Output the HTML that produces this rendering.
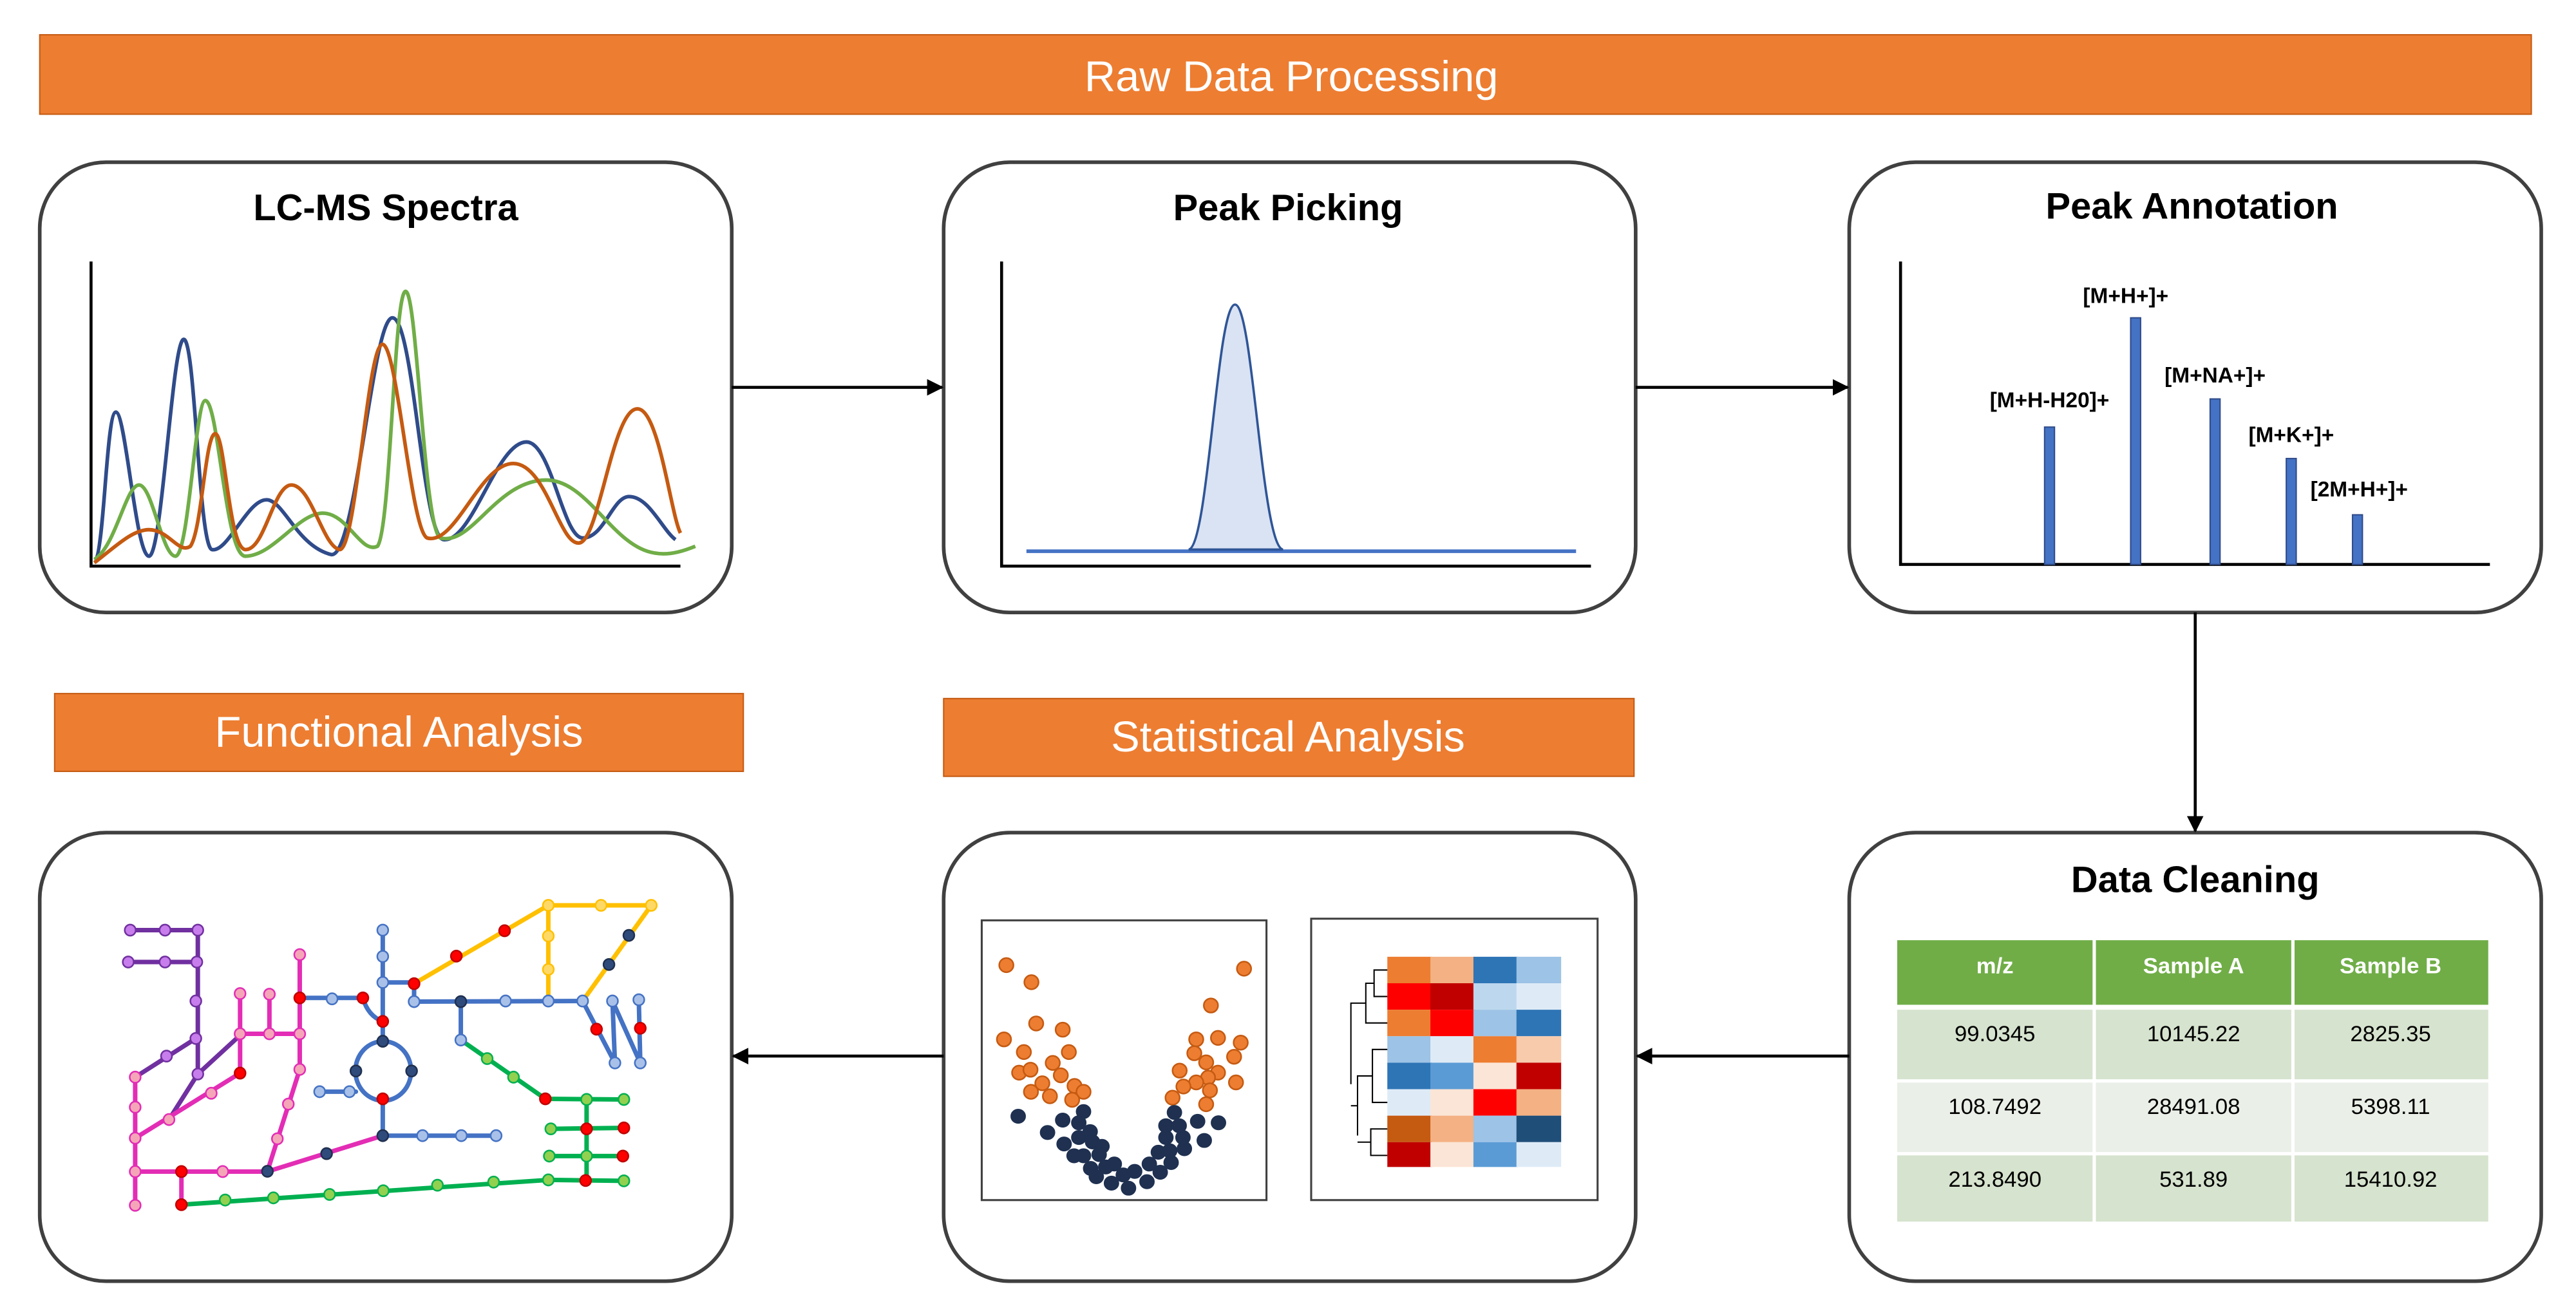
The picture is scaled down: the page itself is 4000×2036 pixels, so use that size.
<!DOCTYPE html>
<html><head><meta charset="utf-8"><style>html,body{margin:0;padding:0;background:#fff}svg{display:block}</style></head><body>
<svg width="4000" height="2036" viewBox="0 0 1556 792" xmlns="http://www.w3.org/2000/svg" font-family="Liberation Sans, sans-serif">
<defs><marker id="ah" markerWidth="10" markerHeight="10" refX="9" refY="5" orient="auto" markerUnits="userSpaceOnUse"><path d="M0,0 L10,5 L0,10 Z" fill="#000"/></marker></defs>
<!-- banners -->
<rect x="24" y="21" width="1505" height="48" fill="#ED7D31" stroke="#C55A11" stroke-width="0.8"/>
<text x="780" y="55" font-size="26" fill="#fff" text-anchor="middle">Raw Data Processing</text>
<rect x="33" y="419" width="416" height="47" fill="#ED7D31" stroke="#C55A11" stroke-width="0.8"/>
<text x="241" y="451" font-size="26" fill="#fff" text-anchor="middle">Functional Analysis</text>
<rect x="570" y="422" width="417" height="47" fill="#ED7D31" stroke="#C55A11" stroke-width="0.8"/>
<text x="778" y="454" font-size="26" fill="#fff" text-anchor="middle">Statistical Analysis</text>
<!-- boxes -->
<g fill="#fff" stroke="#404040" stroke-width="2.2">
<rect x="24" y="98" width="418" height="272" rx="40"/>
<rect x="570" y="98" width="418" height="272" rx="40"/>
<rect x="1117" y="98" width="418" height="272" rx="40"/>
<rect x="24" y="503" width="418" height="271" rx="40"/>
<rect x="570" y="503" width="418" height="271" rx="40"/>
<rect x="1117" y="503" width="418" height="271" rx="40"/>
</g>
<!-- arrows -->
<g stroke="#000" stroke-width="1.8" marker-end="url(#ah)">
<line x1="442" y1="234" x2="569" y2="234"/>
<line x1="988" y1="234" x2="1116" y2="234"/>
<line x1="1326" y1="370" x2="1326" y2="502"/>
<line x1="1117" y1="638" x2="989" y2="638"/>
<line x1="570" y1="638" x2="443" y2="638"/>
</g>
<!-- titles -->
<g font-weight="bold" font-size="22.5" text-anchor="middle" fill="#000">
<text x="233" y="133">LC-MS Spectra</text>
<text x="778" y="133">Peak Picking</text>
<text x="1324" y="132">Peak Annotation</text>
<text x="1326" y="539">Data Cleaning</text>
</g>
<!-- box1 -->
<g fill="none" stroke-width="2.2">
<path d="M57,338 C63,338 64,249 70,249 C76,249 82,336 90,336 C98,336 104,205 111,205 C118,205 120,330 128,332 C138,334 150,300 162,302 C172,304 180,330 200,335 C215,338 225,192 237,192 C250,192 255,325 268,326 C285,328 300,267 318,267 C333,267 340,325 352,325 C365,325 370,300 380,300 C392,300 400,320 408,326" stroke="#2F4B8A"/>
<path d="M57,338 C70,330 76,293 84,293 C92,293 98,336 106,336 C114,336 118,242 124,242 C132,242 136,335 148,336 C165,336 180,310 195,310 C210,310 218,335 228,330 C236,320 238,176 245,176 C252,176 256,320 266,325 C285,330 300,290 330,290 C355,290 370,330 395,334 C405,336 415,332 420,330" stroke="#70AD47"/>
<path d="M57,340 C70,330 80,320 90,320 C102,320 108,335 115,330 C122,320 124,262 130,262 C136,262 138,330 148,332 C160,333 165,293 176,293 C188,293 195,330 205,332 C215,334 222,208 231,208 C240,208 248,320 258,325 C275,330 290,280 310,280 C330,280 338,330 350,328 C362,326 370,247 385,247 C398,247 405,310 411,322" stroke="#C55A11"/>
</g>
<g stroke="#000" stroke-width="1.8" fill="none">
<polyline points="55,158 55,342 411,342"/>
<polyline points="605,158 605,342 961,342"/>
<polyline points="1148,158 1148,341 1504,341"/>
</g>
<!-- box2 -->
<line x1="620" y1="333" x2="952" y2="333" stroke="#4472C4" stroke-width="2.2"/>
<path d="M718,332 C730,330 735,184 746,184 C757,184 762,330 775,332 Z" fill="#DAE3F3" stroke="#2F5597" stroke-width="1.4"/>
<!-- box3 -->
<g fill="#4472C4" stroke="#2F4B8A" stroke-width="0.8">
<rect x="1235" y="258" width="6" height="83"/>
<rect x="1287" y="192" width="6" height="149"/>
<rect x="1335" y="241" width="6" height="100"/>
<rect x="1381" y="277" width="6" height="64"/>
<rect x="1421" y="311" width="6" height="30"/>
</g>
<g font-weight="bold" font-size="13" text-anchor="middle" fill="#000">
<text x="1238" y="246">[M+H-H20]+</text>
<text x="1284" y="183">[M+H+]+</text>
<text x="1338" y="231">[M+NA+]+</text>
<text x="1384" y="267">[M+K+]+</text>
<text x="1425" y="300">[2M+H+]+</text>
</g>
<!-- table -->
<g>
<rect x="1146" y="568" width="118" height="39" fill="#70AD47"/>
<rect x="1266" y="568" width="118" height="39" fill="#70AD47"/>
<rect x="1386" y="568" width="117" height="39" fill="#70AD47"/>
<rect x="1146" y="610" width="118" height="42" fill="#D6E3CE"/>
<rect x="1266" y="610" width="118" height="42" fill="#D6E3CE"/>
<rect x="1386" y="610" width="117" height="42" fill="#D6E3CE"/>
<rect x="1146" y="654" width="118" height="42" fill="#EAEFE7"/>
<rect x="1266" y="654" width="118" height="42" fill="#EAEFE7"/>
<rect x="1386" y="654" width="117" height="42" fill="#EAEFE7"/>
<rect x="1146" y="698" width="118" height="40" fill="#D6E3CE"/>
<rect x="1266" y="698" width="118" height="40" fill="#D6E3CE"/>
<rect x="1386" y="698" width="117" height="40" fill="#D6E3CE"/>
</g>
<g font-size="13.5" text-anchor="middle">
<g fill="#fff" font-weight="bold"><text x="1205" y="588">m/z</text><text x="1325" y="588">Sample A</text><text x="1444" y="588">Sample B</text></g>
<g fill="#000"><text x="1205" y="629">99.0345</text><text x="1325" y="629">10145.22</text><text x="1444" y="629">2825.35</text>
<text x="1205" y="673">108.7492</text><text x="1325" y="673">28491.08</text><text x="1444" y="673">5398.11</text>
<text x="1205" y="717">213.8490</text><text x="1325" y="717">531.89</text><text x="1444" y="717">15410.92</text></g>
</g>
<!-- stats frames -->
<rect x="593" y="556" width="172" height="169" fill="#fff" stroke="#404040" stroke-width="1.2"/>
<rect x="792" y="555" width="173" height="170" fill="#fff" stroke="#404040" stroke-width="1.2"/>
<!-- heatmap -->
<g>
<rect x="838" y="578" width="27" height="16" fill="#ED7D31"/><rect x="864" y="578" width="27" height="16" fill="#F4B183"/><rect x="890" y="578" width="27" height="16" fill="#2E75B6"/><rect x="916" y="578" width="27" height="16" fill="#9DC3E6"/>
<rect x="838" y="594" width="27" height="16" fill="#FF0000"/><rect x="864" y="594" width="27" height="16" fill="#C00000"/><rect x="890" y="594" width="27" height="16" fill="#BDD7EE"/><rect x="916" y="594" width="27" height="16" fill="#DEEBF7"/>
<rect x="838" y="610" width="27" height="16" fill="#ED7D31"/><rect x="864" y="610" width="27" height="16" fill="#FF0000"/><rect x="890" y="610" width="27" height="16" fill="#9DC3E6"/><rect x="916" y="610" width="27" height="16" fill="#2E75B6"/>
<rect x="838" y="626" width="27" height="16" fill="#9DC3E6"/><rect x="864" y="626" width="27" height="16" fill="#DEEBF7"/><rect x="890" y="626" width="27" height="16" fill="#ED7D31"/><rect x="916" y="626" width="27" height="16" fill="#F8CBAD"/>
<rect x="838" y="642" width="27" height="16" fill="#2E75B6"/><rect x="864" y="642" width="27" height="16" fill="#5B9BD5"/><rect x="890" y="642" width="27" height="16" fill="#FBE5D6"/><rect x="916" y="642" width="27" height="16" fill="#C00000"/>
<rect x="838" y="658" width="27" height="16" fill="#DEEBF7"/><rect x="864" y="658" width="27" height="16" fill="#FBE5D6"/><rect x="890" y="658" width="27" height="16" fill="#FF0000"/><rect x="916" y="658" width="27" height="16" fill="#F4B183"/>
<rect x="838" y="674" width="27" height="16" fill="#C55A11"/><rect x="864" y="674" width="27" height="16" fill="#F4B183"/><rect x="890" y="674" width="27" height="16" fill="#9DC3E6"/><rect x="916" y="674" width="27" height="16" fill="#1F4E79"/>
<rect x="838" y="690" width="27" height="15" fill="#C00000"/><rect x="864" y="690" width="27" height="15" fill="#FBE5D6"/><rect x="890" y="690" width="27" height="15" fill="#5B9BD5"/><rect x="916" y="690" width="27" height="15" fill="#DEEBF7"/>
</g>
<g stroke="#000" stroke-width="0.8" fill="none">
<polyline points="838,586 830,586 830,602 838,602"/>
<polyline points="830,594 825,594 825,618 838,618"/>
<polyline points="825,606 816,606 816,655"/>
<polyline points="838,634 829,634 829,666 838,666"/>
<polyline points="829,650 820,650 820,686"/>
<polyline points="838,682 828,682 828,698 838,698"/>
<polyline points="828,690 820,690"/>
<polyline points="820,668 816,668"/>
</g>
<!-- scatter -->
<g transform="translate(593,556) scale(0.286,0.178) translate(-83,-298)" stroke-width="2.5">
<g fill="#ED7D31" stroke="#C55A11">
<ellipse cx="135" cy="450" rx="15" ry="24" vector-effect="non-scaling-stroke"/><ellipse cx="188" cy="508" rx="15" ry="24" vector-effect="non-scaling-stroke"/><ellipse cx="198" cy="648" rx="15" ry="24" vector-effect="non-scaling-stroke"/><ellipse cx="254" cy="669" rx="15" ry="24" vector-effect="non-scaling-stroke"/><ellipse cx="130" cy="702" rx="15" ry="24" vector-effect="non-scaling-stroke"/><ellipse cx="172" cy="745" rx="15" ry="24" vector-effect="non-scaling-stroke"/><ellipse cx="267" cy="745" rx="15" ry="24" vector-effect="non-scaling-stroke"/><ellipse cx="233" cy="782" rx="15" ry="24" vector-effect="non-scaling-stroke"/><ellipse cx="162" cy="815" rx="15" ry="24" vector-effect="non-scaling-stroke"/><ellipse cx="186" cy="805" rx="15" ry="24" vector-effect="non-scaling-stroke"/><ellipse cx="250" cy="824" rx="15" ry="24" vector-effect="non-scaling-stroke"/><ellipse cx="211" cy="851" rx="15" ry="24" vector-effect="non-scaling-stroke"/><ellipse cx="279" cy="860" rx="15" ry="24" vector-effect="non-scaling-stroke"/><ellipse cx="298" cy="880" rx="15" ry="24" vector-effect="non-scaling-stroke"/><ellipse cx="187" cy="880" rx="15" ry="24" vector-effect="non-scaling-stroke"/><ellipse cx="227" cy="895" rx="15" ry="24" vector-effect="non-scaling-stroke"/><ellipse cx="274" cy="907" rx="15" ry="24" vector-effect="non-scaling-stroke"/><ellipse cx="637" cy="462" rx="15" ry="24" vector-effect="non-scaling-stroke"/><ellipse cx="567" cy="587" rx="15" ry="24" vector-effect="non-scaling-stroke"/><ellipse cx="536" cy="702" rx="15" ry="24" vector-effect="non-scaling-stroke"/><ellipse cx="582" cy="697" rx="15" ry="24" vector-effect="non-scaling-stroke"/><ellipse cx="630" cy="713" rx="15" ry="24" vector-effect="non-scaling-stroke"/><ellipse cx="532" cy="749" rx="15" ry="24" vector-effect="non-scaling-stroke"/><ellipse cx="557" cy="780" rx="15" ry="24" vector-effect="non-scaling-stroke"/><ellipse cx="616" cy="761" rx="15" ry="24" vector-effect="non-scaling-stroke"/><ellipse cx="501" cy="808" rx="15" ry="24" vector-effect="non-scaling-stroke"/><ellipse cx="582" cy="815" rx="15" ry="24" vector-effect="non-scaling-stroke"/><ellipse cx="561" cy="832" rx="15" ry="24" vector-effect="non-scaling-stroke"/><ellipse cx="536" cy="848" rx="15" ry="24" vector-effect="non-scaling-stroke"/><ellipse cx="620" cy="848" rx="15" ry="24" vector-effect="non-scaling-stroke"/><ellipse cx="509" cy="862" rx="15" ry="24" vector-effect="non-scaling-stroke"/><ellipse cx="565" cy="875" rx="15" ry="24" vector-effect="non-scaling-stroke"/><ellipse cx="486" cy="900" rx="15" ry="24" vector-effect="non-scaling-stroke"/><ellipse cx="557" cy="922" rx="15" ry="24" vector-effect="non-scaling-stroke"/>
</g>
<g fill="#1F3050" stroke="#1F3050">
<ellipse cx="160" cy="963" rx="15" ry="24"/><ellipse cx="254" cy="976" rx="15" ry="24"/><ellipse cx="298" cy="947" rx="15" ry="24"/><ellipse cx="288" cy="985" rx="15" ry="24"/><ellipse cx="222" cy="1018" rx="15" ry="24"/><ellipse cx="312" cy="1015" rx="15" ry="24"/><ellipse cx="288" cy="1035" rx="15" ry="24"/><ellipse cx="317" cy="1050" rx="15" ry="24"/><ellipse cx="257" cy="1057" rx="15" ry="24"/><ellipse cx="337" cy="1065" rx="15" ry="24"/><ellipse cx="278" cy="1097" rx="15" ry="24"/><ellipse cx="298" cy="1097" rx="15" ry="24"/><ellipse cx="331" cy="1093" rx="15" ry="24"/><ellipse cx="313" cy="1140" rx="15" ry="24"/><ellipse cx="345" cy="1135" rx="15" ry="24"/><ellipse cx="363" cy="1125" rx="15" ry="24"/><ellipse cx="325" cy="1168" rx="15" ry="24"/><ellipse cx="382" cy="1162" rx="15" ry="24"/><ellipse cx="406" cy="1150" rx="15" ry="24"/><ellipse cx="357" cy="1190" rx="15" ry="24"/><ellipse cx="393" cy="1207" rx="15" ry="24"/><ellipse cx="432" cy="1185" rx="15" ry="24"/><ellipse cx="460" cy="1153" rx="15" ry="24"/><ellipse cx="437" cy="1125" rx="15" ry="24"/><ellipse cx="483" cy="1120" rx="15" ry="24"/><ellipse cx="456" cy="1085" rx="15" ry="24"/><ellipse cx="480" cy="1080" rx="15" ry="24"/><ellipse cx="511" cy="1073" rx="15" ry="24"/><ellipse cx="472" cy="1035" rx="15" ry="24"/><ellipse cx="508" cy="1035" rx="15" ry="24"/><ellipse cx="553" cy="1045" rx="15" ry="24"/><ellipse cx="472" cy="995" rx="15" ry="24"/><ellipse cx="500" cy="995" rx="15" ry="24"/><ellipse cx="490" cy="950" rx="15" ry="24"/><ellipse cx="539" cy="980" rx="15" ry="24"/><ellipse cx="583" cy="985" rx="15" ry="24"/>
</g>
</g>
<!-- network -->
<g transform="translate(24,503) scale(0.3003,0.187) translate(-80,-68)" fill="none" stroke-linecap="round" stroke-linejoin="round">
<g stroke="#7030A0" stroke-width="7" >
<polyline vector-effect="non-scaling-stroke" points="262,383 398,383"/>
<polyline vector-effect="non-scaling-stroke" points="258,486 398,486"/>
<polyline vector-effect="non-scaling-stroke" points="398,383 398,848"/>
<polyline vector-effect="non-scaling-stroke" points="272,858 394,733"/>
<polyline vector-effect="non-scaling-stroke" points="478,730 398,848 342,990"/>
</g>
<g stroke="#E32DB5" stroke-width="7">
<polyline vector-effect="non-scaling-stroke" points="272,858 272,1272"/>
<polyline vector-effect="non-scaling-stroke" points="272,1055 483,845"/>
<polyline vector-effect="non-scaling-stroke" points="483,588 483,845"/>
<polyline vector-effect="non-scaling-stroke" points="483,718 603,718"/>
<polyline vector-effect="non-scaling-stroke" points="542,590 542,718"/>
<polyline vector-effect="non-scaling-stroke" points="603,462 603,833 538,1162"/>
<polyline vector-effect="non-scaling-stroke" points="272,1163 538,1163 770,1047"/>
<polyline vector-effect="non-scaling-stroke" points="365,1163 365,1270"/>
</g>
<g stroke="#4472C4" stroke-width="7">
<polyline vector-effect="non-scaling-stroke" points="603,602 730,602"/>
<path vector-effect="non-scaling-stroke" d="M730,602 Q740,660 770,678"/>
<polyline vector-effect="non-scaling-stroke" points="770,383 770,742"/>
<polyline vector-effect="non-scaling-stroke" points="770,552 833,552 833,614 1172,612"/>
<ellipse vector-effect="non-scaling-stroke" cx="771" cy="838" rx="56" ry="96"/>
<polyline vector-effect="non-scaling-stroke" points="643,905 716,905"/>
<polyline vector-effect="non-scaling-stroke" points="770,928 770,1047 998,1047"/>
<polyline vector-effect="non-scaling-stroke" points="927,614 927,738"/>
<polyline vector-effect="non-scaling-stroke" points="1172,612 1237,812 1232,612 1288,812 1285,608"/>
</g>
<g stroke="#FFC000" stroke-width="7">
<polyline vector-effect="non-scaling-stroke" points="833,556 1103,303 1310,303 1172,612"/>
<polyline vector-effect="non-scaling-stroke" points="1103,303 1103,612"/>
</g>
<g stroke="#00B050" stroke-width="7">
<polyline vector-effect="non-scaling-stroke" points="927,738 1097,928 1255,930"/>
<polyline vector-effect="non-scaling-stroke" points="1180,930 1180,1195"/>
<polyline vector-effect="non-scaling-stroke" points="1108,1025 1255,1022"/>
<polyline vector-effect="non-scaling-stroke" points="1105,1113 1253,1113"/>
<polyline vector-effect="non-scaling-stroke" points="365,1270 1103,1190 1255,1193"/>
</g>
<g stroke-width="2.5">
<g fill="#C77DEB" stroke="#7030A0">
<ellipse vector-effect="non-scaling-stroke" cx="262" cy="383" rx="11" ry="18"/><ellipse vector-effect="non-scaling-stroke" cx="332" cy="383" rx="11" ry="18"/><ellipse vector-effect="non-scaling-stroke" cx="398" cy="383" rx="11" ry="18"/><ellipse vector-effect="non-scaling-stroke" cx="258" cy="486" rx="11" ry="18"/><ellipse vector-effect="non-scaling-stroke" cx="332" cy="486" rx="11" ry="18"/><ellipse vector-effect="non-scaling-stroke" cx="396" cy="486" rx="11" ry="18"/><ellipse vector-effect="non-scaling-stroke" cx="394" cy="612" rx="11" ry="18"/><ellipse vector-effect="non-scaling-stroke" cx="394" cy="733" rx="11" ry="18"/><ellipse vector-effect="non-scaling-stroke" cx="335" cy="790" rx="11" ry="18"/><ellipse vector-effect="non-scaling-stroke" cx="398" cy="848" rx="11" ry="18"/>
</g>
<g fill="#F4A6B8" stroke="#E32DB5">
<ellipse vector-effect="non-scaling-stroke" cx="272" cy="858" rx="11" ry="18"/><ellipse vector-effect="non-scaling-stroke" cx="272" cy="955" rx="11" ry="18"/><ellipse vector-effect="non-scaling-stroke" cx="272" cy="1055" rx="11" ry="18"/><ellipse vector-effect="non-scaling-stroke" cx="272" cy="1163" rx="11" ry="18"/><ellipse vector-effect="non-scaling-stroke" cx="272" cy="1272" rx="11" ry="18"/><ellipse vector-effect="non-scaling-stroke" cx="340" cy="995" rx="11" ry="18"/><ellipse vector-effect="non-scaling-stroke" cx="425" cy="910" rx="11" ry="18"/><ellipse vector-effect="non-scaling-stroke" cx="483" cy="588" rx="11" ry="18"/><ellipse vector-effect="non-scaling-stroke" cx="542" cy="590" rx="11" ry="18"/><ellipse vector-effect="non-scaling-stroke" cx="603" cy="462" rx="11" ry="18"/><ellipse vector-effect="non-scaling-stroke" cx="483" cy="718" rx="11" ry="18"/><ellipse vector-effect="non-scaling-stroke" cx="542" cy="718" rx="11" ry="18"/><ellipse vector-effect="non-scaling-stroke" cx="603" cy="718" rx="11" ry="18"/><ellipse vector-effect="non-scaling-stroke" cx="603" cy="833" rx="11" ry="18"/><ellipse vector-effect="non-scaling-stroke" cx="580" cy="945" rx="11" ry="18"/><ellipse vector-effect="non-scaling-stroke" cx="558" cy="1057" rx="11" ry="18"/><ellipse vector-effect="non-scaling-stroke" cx="448" cy="1163" rx="11" ry="18"/>
</g>
<g fill="#A9C1E8" stroke="#4472C4">
<ellipse vector-effect="non-scaling-stroke" cx="770" cy="383" rx="11" ry="18"/><ellipse vector-effect="non-scaling-stroke" cx="770" cy="468" rx="11" ry="18"/><ellipse vector-effect="non-scaling-stroke" cx="770" cy="552" rx="11" ry="18"/><ellipse vector-effect="non-scaling-stroke" cx="668" cy="605" rx="11" ry="18"/><ellipse vector-effect="non-scaling-stroke" cx="833" cy="614" rx="11" ry="18"/><ellipse vector-effect="non-scaling-stroke" cx="643" cy="905" rx="11" ry="18"/><ellipse vector-effect="non-scaling-stroke" cx="703" cy="905" rx="11" ry="18"/><ellipse vector-effect="non-scaling-stroke" cx="1017" cy="612" rx="11" ry="18"/><ellipse vector-effect="non-scaling-stroke" cx="1103" cy="612" rx="11" ry="18"/><ellipse vector-effect="non-scaling-stroke" cx="1172" cy="612" rx="11" ry="18"/><ellipse vector-effect="non-scaling-stroke" cx="1232" cy="612" rx="11" ry="18"/><ellipse vector-effect="non-scaling-stroke" cx="1285" cy="608" rx="11" ry="18"/><ellipse vector-effect="non-scaling-stroke" cx="1237" cy="812" rx="11" ry="18"/><ellipse vector-effect="non-scaling-stroke" cx="1288" cy="812" rx="11" ry="18"/><ellipse vector-effect="non-scaling-stroke" cx="927" cy="738" rx="11" ry="18"/><ellipse vector-effect="non-scaling-stroke" cx="850" cy="1047" rx="11" ry="18"/><ellipse vector-effect="non-scaling-stroke" cx="928" cy="1047" rx="11" ry="18"/><ellipse vector-effect="non-scaling-stroke" cx="998" cy="1047" rx="11" ry="18"/>
</g>
<g fill="#FFD966" stroke="#FFC000">
<ellipse vector-effect="non-scaling-stroke" cx="1103" cy="303" rx="11" ry="18"/><ellipse vector-effect="non-scaling-stroke" cx="1209" cy="303" rx="11" ry="18"/><ellipse vector-effect="non-scaling-stroke" cx="1310" cy="303" rx="11" ry="18"/><ellipse vector-effect="non-scaling-stroke" cx="1103" cy="402" rx="11" ry="18"/><ellipse vector-effect="non-scaling-stroke" cx="1103" cy="510" rx="11" ry="18"/>
</g>
<g fill="#92D050" stroke="#00B050">
<ellipse vector-effect="non-scaling-stroke" cx="980" cy="798" rx="11" ry="18"/><ellipse vector-effect="non-scaling-stroke" cx="1033" cy="858" rx="11" ry="18"/><ellipse vector-effect="non-scaling-stroke" cx="1180" cy="930" rx="11" ry="18"/><ellipse vector-effect="non-scaling-stroke" cx="1255" cy="930" rx="11" ry="18"/><ellipse vector-effect="non-scaling-stroke" cx="1108" cy="1025" rx="11" ry="18"/><ellipse vector-effect="non-scaling-stroke" cx="1105" cy="1113" rx="11" ry="18"/><ellipse vector-effect="non-scaling-stroke" cx="1180" cy="1113" rx="11" ry="18"/><ellipse vector-effect="non-scaling-stroke" cx="1255" cy="1193" rx="11" ry="18"/><ellipse vector-effect="non-scaling-stroke" cx="453" cy="1255" rx="11" ry="18"/><ellipse vector-effect="non-scaling-stroke" cx="550" cy="1248" rx="11" ry="18"/><ellipse vector-effect="non-scaling-stroke" cx="663" cy="1237" rx="11" ry="18"/><ellipse vector-effect="non-scaling-stroke" cx="771" cy="1225" rx="11" ry="18"/><ellipse vector-effect="non-scaling-stroke" cx="880" cy="1207" rx="11" ry="18"/><ellipse vector-effect="non-scaling-stroke" cx="993" cy="1197" rx="11" ry="18"/><ellipse vector-effect="non-scaling-stroke" cx="1103" cy="1190" rx="11" ry="18"/>
</g>
<g fill="#FF0000" stroke="#C00000">
<ellipse vector-effect="non-scaling-stroke" cx="483" cy="845" rx="11" ry="18"/><ellipse vector-effect="non-scaling-stroke" cx="365" cy="1163" rx="11" ry="18"/><ellipse vector-effect="non-scaling-stroke" cx="365" cy="1270" rx="11" ry="18"/><ellipse vector-effect="non-scaling-stroke" cx="603" cy="602" rx="11" ry="18"/><ellipse vector-effect="non-scaling-stroke" cx="730" cy="602" rx="11" ry="18"/><ellipse vector-effect="non-scaling-stroke" cx="770" cy="678" rx="11" ry="18"/><ellipse vector-effect="non-scaling-stroke" cx="833" cy="556" rx="11" ry="18"/><ellipse vector-effect="non-scaling-stroke" cx="770" cy="928" rx="11" ry="18"/><ellipse vector-effect="non-scaling-stroke" cx="1200" cy="703" rx="11" ry="18"/><ellipse vector-effect="non-scaling-stroke" cx="1288" cy="700" rx="11" ry="18"/><ellipse vector-effect="non-scaling-stroke" cx="918" cy="467" rx="11" ry="18"/><ellipse vector-effect="non-scaling-stroke" cx="1015" cy="385" rx="11" ry="18"/><ellipse vector-effect="non-scaling-stroke" cx="1097" cy="928" rx="11" ry="18"/><ellipse vector-effect="non-scaling-stroke" cx="1180" cy="1025" rx="11" ry="18"/><ellipse vector-effect="non-scaling-stroke" cx="1255" cy="1022" rx="11" ry="18"/><ellipse vector-effect="non-scaling-stroke" cx="1253" cy="1113" rx="11" ry="18"/><ellipse vector-effect="non-scaling-stroke" cx="1178" cy="1192" rx="11" ry="18"/>
</g>
<g fill="#2F4B7C" stroke="#1F3050">
<ellipse vector-effect="non-scaling-stroke" cx="538" cy="1162" rx="11" ry="18"/><ellipse vector-effect="non-scaling-stroke" cx="657" cy="1105" rx="11" ry="18"/><ellipse vector-effect="non-scaling-stroke" cx="770" cy="1047" rx="11" ry="18"/><ellipse vector-effect="non-scaling-stroke" cx="770" cy="742" rx="11" ry="18"/><ellipse vector-effect="non-scaling-stroke" cx="716" cy="838" rx="11" ry="18"/><ellipse vector-effect="non-scaling-stroke" cx="828" cy="838" rx="11" ry="18"/><ellipse vector-effect="non-scaling-stroke" cx="927" cy="614" rx="11" ry="18"/><ellipse vector-effect="non-scaling-stroke" cx="1265" cy="400" rx="11" ry="18"/><ellipse vector-effect="non-scaling-stroke" cx="1225" cy="494" rx="11" ry="18"/>
</g>
</g>
</g>
</svg>
</body></html>
